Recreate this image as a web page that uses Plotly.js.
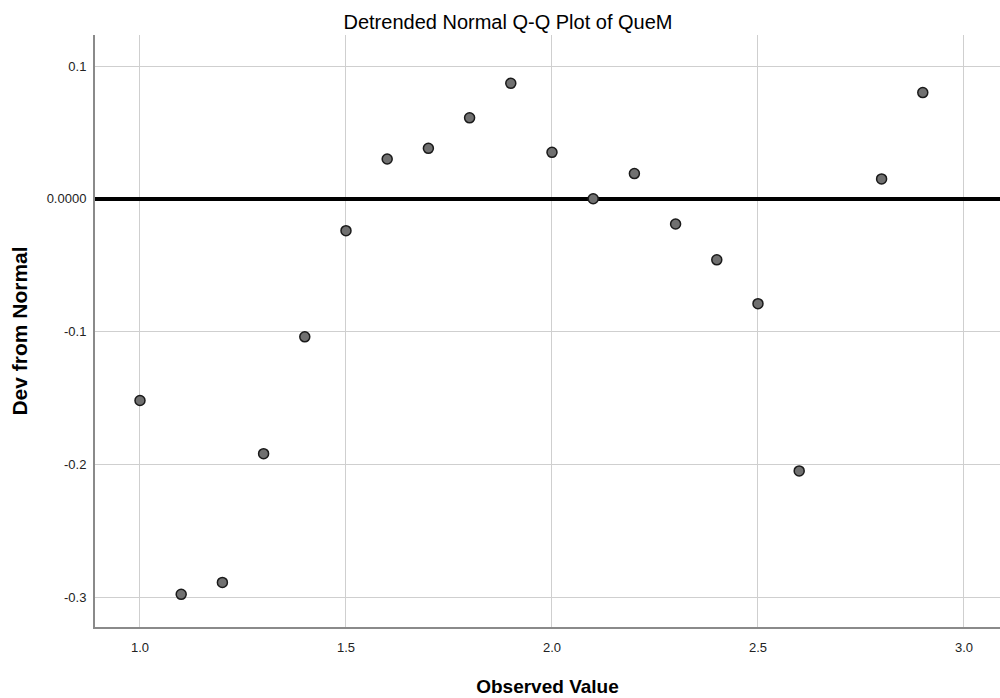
<!DOCTYPE html>
<html>
<head>
<meta charset="utf-8">
<script src="https://cdn.plot.ly/plotly-3.0.1.min.js"></script>
<style>html,body{margin:0;padding:0;background:#fff;}#chart{width:1000px;height:698px;}</style>
</head>
<body>
<div id="chart"></div>
<script>
const observedValue = [1.0, 1.1, 1.2, 1.3, 1.4, 1.5, 1.6, 1.7, 1.8, 1.9, 2.0, 2.1, 2.2, 2.3, 2.4, 2.5, 2.6, 2.8, 2.9];
const devFromNormal = [-0.152, -0.298, -0.289, -0.192, -0.104, -0.024, 0.030, 0.038, 0.061, 0.087, 0.035, 0.000, 0.019, -0.019, -0.046, -0.079, -0.205, 0.015, 0.080];
const xTickVals = [1.0, 1.5, 2.0, 2.5, 3.0];
const xTickText = ["1.0", "1.5", "2.0", "2.5", "3.0"];
const yTickVals = [0.1, 0.0, -0.1, -0.2, -0.3];
const yTickText = ["0.1", "0.0000", "-0.1", "-0.2", "-0.3"];

const trace = {
  x: observedValue,
  y: devFromNormal,
  type: 'scatter',
  mode: 'markers',
  marker: {size: 10, color: '#707070', line: {color: '#1a1a1a', width: 1.5}},
  hoverinfo: 'x+y'
};

const layout = {
  width: 1000, height: 698,
  margin: {l: 95, r: 0, t: 35, b: 71},
  paper_bgcolor: '#ffffff', plot_bgcolor: '#ffffff',
  showlegend: false,
  font: {family: 'Arial, "Liberation Sans", sans-serif', size: 13, color: '#222'},
  title: {
    text: 'Detrended Normal Q-Q Plot of QueM',
    font: {family: 'Arial, "Liberation Sans", sans-serif', size: 20, color: '#000'},
    x: 0.508, xanchor: 'center', xref: 'container', y: 0.9685, yanchor: 'middle', yref: 'container'
  },
  xaxis: {
    range: [0.8908, 3.0874],
    tickvals: xTickVals, ticktext: xTickText,
    showgrid: true, gridcolor: '#cfcfcf', gridwidth: 1,
    zeroline: false,
    showline: true, linecolor: '#8a8a8a', linewidth: 2,
    ticks: '', ticklabelstandoff: 7,
    tickfont: {size: 13, color: '#222'},
    title: {text: '<b>Observed Value</b>', font: {family: 'Arial, "Liberation Sans", sans-serif', size: 19, color: '#000'}, standoff: 26},
    automargin: false
  },
  yaxis: {
    range: [-0.3226, 0.1234],
    tickvals: yTickVals, ticktext: yTickText,
    showgrid: true, gridcolor: '#cfcfcf', gridwidth: 1,
    zeroline: true, zerolinecolor: '#000000', zerolinewidth: 4,
    showline: true, linecolor: '#8a8a8a', linewidth: 2,
    ticks: '', ticklabelstandoff: 4,
    tickfont: {size: 13, color: '#222'},
    title: {text: '<b>Dev from Normal</b>', font: {family: 'Arial, "Liberation Sans", sans-serif', size: 21, color: '#000'}, standoff: 13},
    automargin: false
  }
};

Plotly.newPlot('chart', [trace], layout, {displayModeBar: false, staticPlot: true});
</script>
</body>
</html>
